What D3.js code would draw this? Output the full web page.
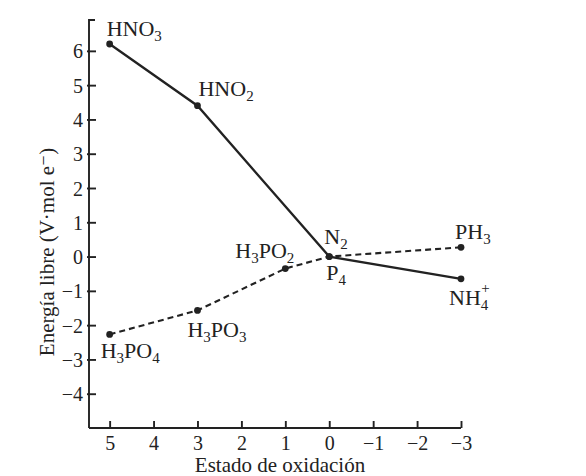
<!DOCTYPE html>
<html>
<head>
<meta charset="utf-8">
<script src="https://cdn.jsdelivr.net/npm/d3@7"></script>
<style>
  body { margin: 0; background: #fff; }
  text { font-family: "Liberation Serif", "DejaVu Serif", serif; fill: #222; }
</style>
</head>
<body>
<div id="graph"></div>
<script>
// oxidation states and free energy (V·mol e-)
const nitrogenStates = [5, 3, 0, -3];
const nitrogenEnergy = [6.2, 4.4, 0, -0.65];
const nitrogenNames = [["H", "N", "O", "_3"], ["H", "N", "O", "_2"], ["N", "_2"], ["N", "H", "_4", "^+"]];

const phosphorusStates = [5, 3, 1, 0, -3];
const phosphorusEnergy = [-2.27, -1.57, -0.35, 0, 0.27];
const phosphorusNames = [["H", "_3", "P", "O", "_4"], ["H", "_3", "P", "O", "_3"], ["H", "_3", "P", "O", "_2"], ["P", "_4"], ["P", "H", "_3"]];

const xTicks = [5, 4, 3, 2, 1, 0, -1, -2, -3];
const yTicks = [6, 5, 4, 3, 2, 1, 0, -1, -2, -3, -4];

// label offsets from their point
const nitrogenOffsets = [[-3, -8], [1, -10], [-5, -13], [-12, 26]];
const phosphorusOffsets = [[-9, 24], [-10, 27], [-50, -11], [-3, 23], [-6, -8]];

var width = 586, height = 476;
var x = d3.scaleLinear().domain([5.47, -3]).range([89, 461]);
var y = d3.scaleLinear().domain([-5, 6.9]).range([428, 20]);

var svg = d3.select("#graph").append("svg")
    .attr("width", width)
    .attr("height", height);

function fmt(d) {
    return d < 0 ? "\u2212" + Math.abs(d) : "" + d;
}

// y axis, ticks mostly on the inner side
var yAxis = svg.append("g")
    .attr("transform", "translate(" + x.range()[0] + ",0)")
    .call(d3.axisLeft(y).tickValues(yTicks).tickSize(-7).tickPadding(8).tickFormat(fmt));
yAxis.select(".domain").attr("d", "M6," + y.range()[1] + "H0V" + y.range()[0]);
yAxis.selectAll(".tick line").attr("x1", -2).attr("x2", 7);

// x axis
var xAxis = svg.append("g")
    .attr("transform", "translate(0," + y.range()[0] + ")")
    .call(d3.axisTop(x).tickValues(xTicks).tickSize(7).tickFormat(fmt));
xAxis.select(".domain").attr("d", "M" + x.range()[0] + ",0H" + x(-3));
xAxis.selectAll(".tick text").attr("y", 8).attr("dy", "0.71em");

svg.selectAll(".domain, .tick line").attr("stroke", "#222").attr("stroke-width", 1.9);
svg.selectAll(".tick text")
    .style("font-family", "Liberation Serif, serif")
    .style("font-size", "20px")
    .attr("fill", "#222");
yAxis.selectAll(".tick text").attr("x", -6).attr("dy", "0.35em");

// axis titles
svg.append("text")
    .attr("x", 280)
    .attr("y", 472)
    .attr("text-anchor", "middle")
    .style("font-size", "21px")
    .text("Estado de oxidación");

svg.append("text")
    .attr("transform", "translate(54,252) rotate(-90)")
    .attr("text-anchor", "middle")
    .style("font-size", "21px")
    .text("Energía libre (V\u00b7mol e\u207b)");

var line = d3.line()
    .x(function (d) { return x(d[0]); })
    .y(function (d) { return y(d[1]); });

var nData = d3.zip(nitrogenStates, nitrogenEnergy);
var pData = d3.zip(phosphorusStates, phosphorusEnergy);

svg.append("path")
    .datum(pData)
    .attr("d", line)
    .attr("fill", "none")
    .attr("stroke", "#222")
    .attr("stroke-width", 2.1)
    .attr("stroke-dasharray", "6,4");

svg.append("path")
    .datum(nData)
    .attr("d", line)
    .attr("fill", "none")
    .attr("stroke", "#222")
    .attr("stroke-width", 2.3);

function drawPoints(data, names, offsets) {
    var g = svg.append("g");
    g.selectAll("circle")
        .data(data)
        .enter()
        .append("circle")
        .attr("cx", function (d) { return x(d[0]); })
        .attr("cy", function (d) { return y(d[1]); })
        .attr("r", 3.4)
        .attr("fill", "#222");

    g.selectAll("text")
        .data(data)
        .enter()
        .append("text")
        .attr("x", function (d, i) { return x(d[0]) + offsets[i][0]; })
        .attr("y", function (d, i) { return y(d[1]) + offsets[i][1]; })
        .style("font-size", "22px")
        .each(function (d, i) {
            var t = d3.select(this);
            var shift = 0;
            names[i].forEach(function (part) {
                var dy = 0, size = null, txt = part;
                if (part[0] === "_") { txt = part.slice(1); dy = 5 - shift; shift = 5; size = "15px"; }
                else if (part[0] === "^") { txt = part.slice(1); dy = -12 - shift; shift = -12; size = "15px"; }
                else { dy = -shift; shift = 0; }
                var s = t.append("tspan").attr("dy", dy).text(txt);
                if (size) s.style("font-size", size);
                if (part[0] === "^") s.attr("dx", -7);
            });
        });
}

drawPoints(nData, nitrogenNames, nitrogenOffsets);
drawPoints(pData, phosphorusNames, phosphorusOffsets);
</script>
</body>
</html>
